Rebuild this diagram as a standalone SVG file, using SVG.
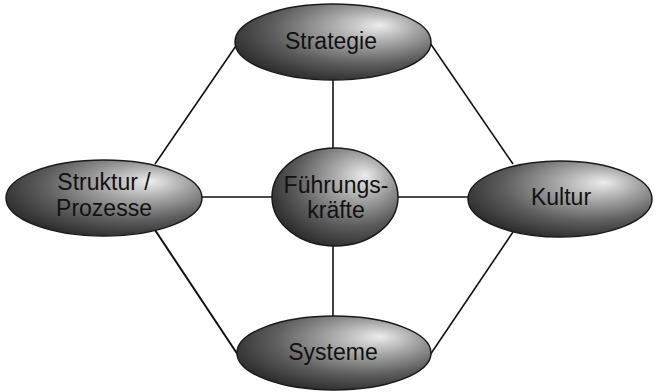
<svg xmlns="http://www.w3.org/2000/svg" width="656" height="392" viewBox="0 0 656 392">
<style>
.node ellipse{fill:url(#shade);stroke:#1a1a1a;stroke-width:1.5}
.node text{font-family:"Liberation Sans",Arial,sans-serif;font-size:23px;fill:#111;text-anchor:middle}
.conn line{stroke:#111;stroke-width:1.6}
</style>
<defs>
<radialGradient id="shade" cx="0.62" cy="0.35" r="0.72" fx="0.74" fy="0.28">
<stop offset="0" stop-color="#ececec"/>
<stop offset="0.3" stop-color="#a8a8a8"/>
<stop offset="0.65" stop-color="#5e5e5e"/>
<stop offset="1" stop-color="#262626"/>
</radialGradient>
</defs>
<rect width="656" height="392" fill="#fff"/>
<g class="conn" id="connectors">
<line x1="240" y1="40" x2="155" y2="164"/>
<line x1="428" y1="40" x2="513" y2="164"/>
<line x1="155" y1="230" x2="240" y2="358" style="stroke-width:2"/>
<line x1="513" y1="232" x2="428" y2="358"/>
<line x1="333" y1="78" x2="333" y2="150"/>
<line x1="333" y1="244" x2="333" y2="318"/>
<line x1="200" y1="197" x2="274" y2="197"/>
<line x1="396" y1="197" x2="470" y2="197"/>
</g>
<g class="node" id="strategie">
<ellipse cx="333" cy="42" rx="98" ry="38"/>
<text x="331" y="49">Strategie</text>
</g>
<g class="node" id="struktur">
<ellipse cx="104" cy="198" rx="98" ry="38"/>
<text x="104" y="190">Struktur /</text>
<text x="104" y="216">Prozesse</text>
</g>
<g class="node" id="fuehrung">
<ellipse cx="335" cy="197" rx="63" ry="49"/>
<text x="336" y="193">Führungs-</text>
<text x="336" y="218">kräfte</text>
</g>
<g class="node" id="kultur">
<ellipse cx="560" cy="199" rx="92" ry="38"/>
<text x="561" y="205">Kultur</text>
</g>
<g class="node" id="systeme">
<ellipse cx="334" cy="353" rx="97" ry="37"/>
<text x="333" y="360">Systeme</text>
</g>
</svg>
